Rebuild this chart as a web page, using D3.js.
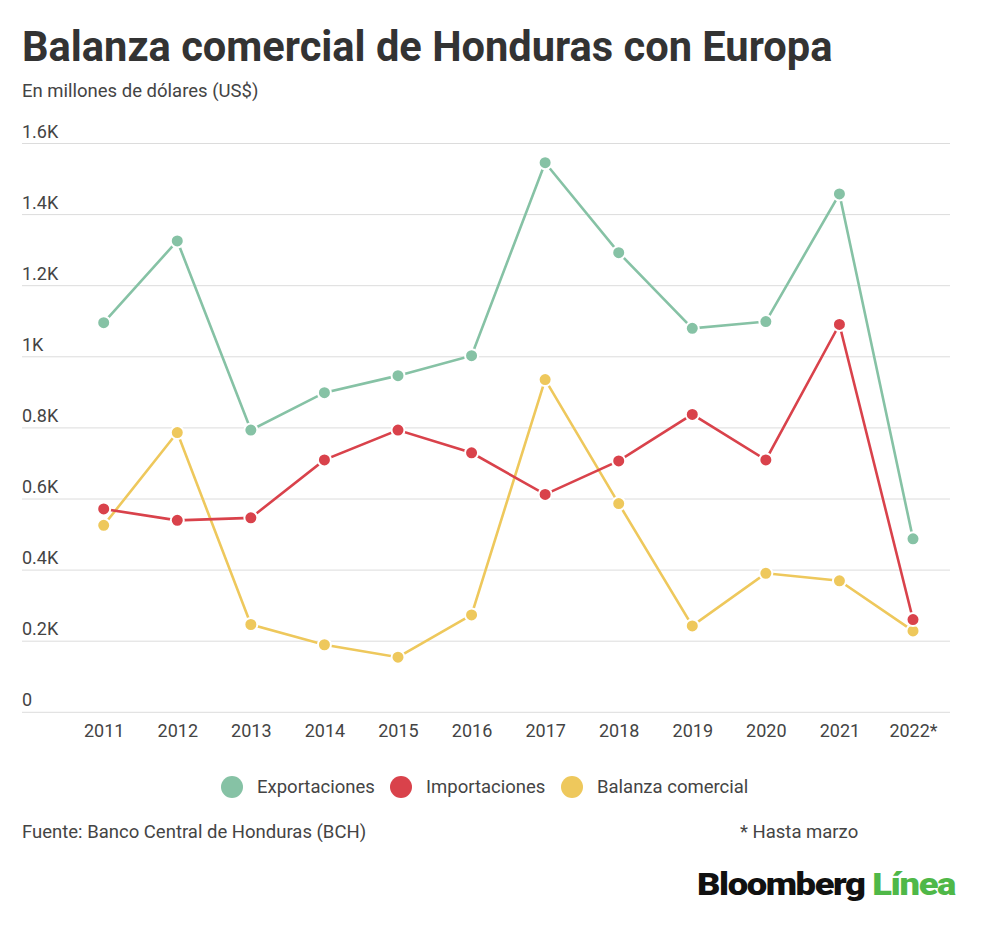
<!DOCTYPE html>
<html>
<head>
<meta charset="utf-8">
<script src="https://cdn.jsdelivr.net/npm/d3@7"></script>
<style>
    body { margin: 0; background: #fff; }
    text { font-family: Roboto, "Noto Sans", sans-serif; }
</style>
</head>
<body>
<svg id="chart" width="1000" height="932"></svg>
<script>
/*globals d3*/

// years on the x axis (2022 only up to march)
var years = ["2011", "2012", "2013", "2014", "2015", "2016", "2017", "2018", "2019", "2020", "2021", "2022*"];

// millions of US$
var exportaciones = [1096, 1326, 794, 899, 947, 1003, 1546, 1293, 1080, 1099, 1458, 488];
var importaciones = [572, 540, 547, 710, 794, 730, 613, 707, 838, 710, 1091, 261];
var balanza = [526, 787, 247, 190, 155, 274, 936, 587, 243, 391, 370, 229];

var yTicks = [0, 200, 400, 600, 800, 1000, 1200, 1400, 1600];
var yTickLabels = ["0", "0.2K", "0.4K", "0.6K", "0.8K", "1K", "1.2K", "1.4K", "1.6K"];

var seriesNames = ["Exportaciones", "Importaciones", "Balanza comercial"];
var seriesColors = ["#86c2a5", "#d9424b", "#eec85c"];

function drawChart() {
    var svg = d3.select("#chart");
    var left = 22, right = 950;
    var top = 143.5, bottom = 712.3;

    var x = d3.scalePoint()
        .domain(years)
        .range([103.7, 913]);
    var y = d3.scaleLinear()
        .domain([0, 1600])
        .range([bottom, top]);

    // title + subtitle
    svg.append("text")
        .attr("x", 22).attr("y", 61)
        .attr("font-size", 41.6).attr("font-weight", 700)
        .attr("fill", "#333")
        .text("Balanza comercial de Honduras con Europa");
    svg.append("text")
        .attr("x", 22).attr("y", 97)
        .attr("font-size", 18.5).attr("fill", "#444")
        .text("En millones de dólares (US$)");

    // horizontal grid with labels sitting on top of the lines
    var grid = svg.append("g");
    grid.selectAll("line")
        .data(yTicks)
        .enter()
        .append("line")
        .attr("x1", left).attr("x2", right)
        .attr("y1", function (d) { return y(d); })
        .attr("y2", function (d) { return y(d); })
        .attr("stroke", "#dcdcdc").attr("stroke-width", 1);
    grid.selectAll("text")
        .data(yTicks)
        .enter()
        .append("text")
        .attr("x", left)
        .attr("y", function (d) { return y(d) - 6; })
        .attr("font-size", 18).attr("fill", "#444")
        .text(function (d, i) { return yTickLabels[i]; });

    // x axis labels
    var xAxis = d3.axisBottom(x).tickSize(0).tickPadding(0);
    var xg = svg.append("g")
        .attr("transform", "translate(0," + (bottom + 25) + ")")
        .call(xAxis);
    xg.select(".domain").remove();
    xg.selectAll("text")
        .attr("font-size", 18).attr("fill", "#444")
        .attr("font-family", "Roboto, sans-serif")
        .attr("dy", "0");

    var allSeries = [exportaciones, importaciones, balanza];
    var line = d3.line()
        .x(function (d, i) { return x(years[i]); })
        .y(function (d) { return y(d); });

    // draw lines first then dots, export drawn last so it sits on top
    var order = [2, 1, 0];
    order.forEach(function (s) {
        var g = svg.append("g");
        g.append("path")
            .attr("d", line(allSeries[s]))
            .attr("fill", "none")
            .attr("stroke", seriesColors[s])
            .attr("stroke-width", 2.6);
        g.selectAll("circle")
            .data(allSeries[s])
            .enter()
            .append("circle")
            .attr("cx", function (d, i) { return x(years[i]); })
            .attr("cy", function (d) { return y(d); })
            .attr("r", 6.5)
            .attr("fill", seriesColors[s])
            .attr("stroke", "#fff")
            .attr("stroke-width", 2);
    });

    // legend
    var legendX = [232, 401, 572];
    var legend = svg.append("g");
    seriesNames.forEach(function (name, i) {
        legend.append("circle")
            .attr("cx", legendX[i]).attr("cy", 787)
            .attr("r", 11)
            .attr("fill", seriesColors[i]);
        legend.append("text")
            .attr("x", legendX[i] + 25).attr("y", 793)
            .attr("font-size", 18.5).attr("fill", "#444")
            .text(name);
    });

    // footer
    svg.append("text")
        .attr("x", 22).attr("y", 838)
        .attr("font-size", 18.5).attr("fill", "#444")
        .text("Fuente: Banco Central de Honduras (BCH)");
    svg.append("text")
        .attr("x", 740).attr("y", 838)
        .attr("font-size", 18.5).attr("fill", "#444")
        .text("* Hasta marzo");

    // logo, stretched to the width of the original wordmark
    var logo = svg.append("text")
        .attr("x", 697).attr("y", 895)
        .attr("font-size", 31).attr("font-weight", 900)
        .attr("letter-spacing", -1.2)
        .attr("textLength", 258)
        .attr("lengthAdjust", "spacingAndGlyphs");
    logo.append("tspan").attr("fill", "#111").text("Bloomberg ");
    logo.append("tspan").attr("fill", "#4fb848").text("Línea");
}

drawChart();
</script>
</body>
</html>
